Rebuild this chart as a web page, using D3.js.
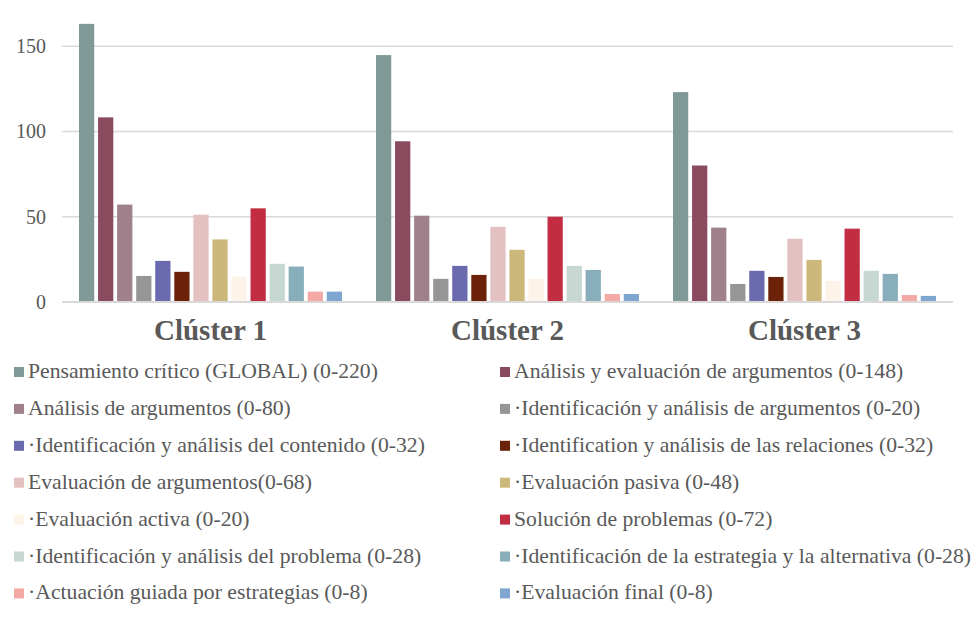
<!DOCTYPE html>
<html>
<head>
<meta charset="utf-8">
<script src="https://cdn.jsdelivr.net/npm/d3@7"></script>
<style>
  html, body { margin: 0; padding: 0; background: #fff; }
</style>
</head>
<body>
<div id="chart"></div>
<script>
// ── DATA ──────────────────────────────────────────────────────────────────
const clusters = ["Clúster 1", "Clúster 2", "Clúster 3"];

const seriesLabels = [
  "Pensamiento crítico (GLOBAL) (0-220)",
  "Análisis y evaluación de argumentos (0-148)",
  "Análisis de argumentos (0-80)",
  "·Identificación y análisis de argumentos (0-20)",
  "·Identificación y análisis del contenido (0-32)",
  "·Identification y análisis de las relaciones (0-32)",
  "Evaluación de argumentos(0-68)",
  "·Evaluación pasiva (0-48)",
  "·Evaluación activa (0-20)",
  "Solución de problemas (0-72)",
  "·Identificación y análisis del problema (0-28)",
  "·Identificación de la estrategia y la alternativa (0-28)",
  "·Actuación guiada por estrategias (0-8)",
  "·Evaluación final (0-8)"
];

const cluster1 = [162.8, 108, 56.9, 15.1, 23.9, 17.5, 51, 36.5, 14.7, 54.7, 22.2, 20.6, 5.9, 5.9];
const cluster2 = [144.5, 94, 50.4, 13.4, 21, 15.7, 43.9, 30.4, 13.4, 49.8, 21, 18.6, 4.5, 4.5];
const cluster3 = [122.8, 79.8, 43.4, 10.4, 18.1, 14.5, 36.9, 24.5, 12.2, 42.8, 18.1, 16.3, 3.9, 3.4];

const yTicks = [0, 50, 100, 150];

const colors = [
  "#7f9996", "#8b4b5e", "#a0818b", "#969696", "#6a6aae", "#6b2208", "#e3c1c1",
  "#cdb87c", "#fdf3e8", "#c32d42", "#c7d8d3", "#88aebc", "#f4a9a5", "#7ea6d0"
];

// ── LAYOUT ────────────────────────────────────────────────────────────────
const totalW = 979, totalH = 639;
const plot = { left: 62, right: 953, zero: 301.7, top150: 45.7 };
const FONT = "'Liberation Serif', 'Times New Roman', serif";
const TEXT = "#595959";

const values = [cluster1, cluster2, cluster3];

const svg = d3.select("#chart").append("svg")
  .attr("width", totalW)
  .attr("height", totalH)
  .style("display", "block");

// ── SCALES ────────────────────────────────────────────────────────────────
const x0 = d3.scaleBand()
  .domain(clusters)
  .range([plot.left, plot.right]);

const x1 = d3.scaleBand()
  .domain(d3.range(seriesLabels.length))
  .range([17, x0.bandwidth() - 17])
  .paddingInner(0.2)
  .paddingOuter(0);

const y = d3.scaleLinear()
  .domain([0, 150])
  .range([plot.zero, plot.top150]);

// ── GRID + Y AXIS ─────────────────────────────────────────────────────────
svg.append("g")
  .attr("transform", `translate(${plot.left},0)`)
  .call(d3.axisLeft(y).tickValues(yTicks).tickSize(-(plot.right - plot.left)).tickPadding(16))
  .call(ax => ax.select(".domain").remove())
  .call(ax => ax.selectAll(".tick line")
    .attr("stroke", "#d9d9d9")
    .attr("stroke-width", 1.5))
  .call(ax => ax.selectAll(".tick text")
    .attr("fill", TEXT)
    .attr("font-family", FONT)
    .attr("font-size", "20px")
    .attr("dy", "0.34em"));

// ── BARS ──────────────────────────────────────────────────────────────────
const groups = svg.append("g").selectAll("g")
  .data(clusters)
  .join("g")
  .attr("transform", d => `translate(${x0(d)},0)`);

groups.selectAll("rect")
  .data((d, ci) => values[ci].map((v, si) => ({ v, si })))
  .join("rect")
  .attr("x", d => x1(d.si))
  .attr("width", x1.bandwidth())
  .attr("y", d => y(d.v))
  .attr("height", d => y(0) - y(d.v))
  .attr("fill", d => colors[d.si]);

// zero line drawn again on top
svg.append("line")
  .attr("x1", plot.left).attr("x2", plot.right)
  .attr("y1", y(0)).attr("y2", y(0))
  .attr("stroke", "#d9d9d9")
  .attr("stroke-width", 1.5);

// ── CATEGORY LABELS ───────────────────────────────────────────────────────
svg.append("g").selectAll("text")
  .data(clusters)
  .join("text")
  .attr("x", d => x0(d) + x0.bandwidth() / 2)
  .attr("y", 340)
  .attr("text-anchor", "middle")
  .attr("fill", TEXT)
  .attr("font-family", FONT)
  .attr("font-size", "29px")
  .attr("font-weight", "700")
  .text(d => d);

// ── LEGEND ────────────────────────────────────────────────────────────────
const colX = [14, 500];
const legend = svg.append("g").selectAll("g")
  .data(seriesLabels)
  .join("g")
  .attr("transform", (d, i) => `translate(${colX[i % 2]},${378 + Math.floor(i / 2) * 36.9})`);

legend.append("rect")
  .attr("x", 0)
  .attr("y", -11)
  .attr("width", 10)
  .attr("height", 10)
  .attr("fill", (d, i) => colors[i]);

legend.append("text")
  .attr("x", 14)
  .attr("y", 0)
  .attr("fill", TEXT)
  .attr("font-family", FONT)
  .attr("font-size", "21.7px")
  .text(d => d);
</script>
</body>
</html>
